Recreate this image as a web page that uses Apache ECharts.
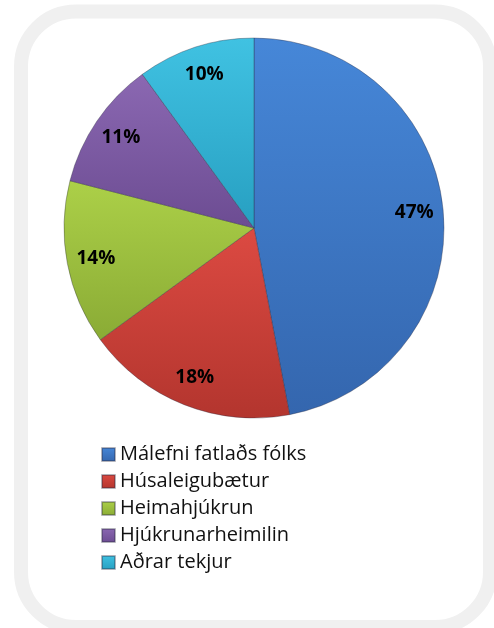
<!DOCTYPE html>
<html>
<head>
<meta charset="utf-8">
<script src="https://cdn.jsdelivr.net/npm/echarts@6/dist/echarts.min.js"></script>
<style>
  html, body { margin: 0; padding: 0; background: #ffffff; }
  #main { width: 494px; height: 628px; }
</style>
</head>
<body>
<div id="main"></div>
<script>
// flokkar og hlutföll (%)
const categories = ['Málefni fatlaðs fólks', 'Húsaleigubætur', 'Heimahjúkrun', 'Hjúkrunarheimilin', 'Aðrar tekjur'];
const shares = [47, 18, 14, 11, 10];
// litir: ljósari efst, dekkri neðst
const topColors = ['#4687d8', '#dc4a42', '#acd048', '#8b68b2', '#40c2e2'];
const bottomColors = ['#3466ae', '#b3352e', '#8aab35', '#6c4c92', '#279fc1'];

const chart = echarts.init(document.getElementById('main'));

const grad = (i) => new echarts.graphic.LinearGradient(0, 0, 0, 1, [
  { offset: 0, color: topColors[i] },
  { offset: 1, color: bottomColors[i] },
]);

const pieData = categories.map((name, i) => ({
  name,
  value: shares[i],
  itemStyle: { color: grad(i) },
}));

const option = {
  animation: false,
  graphic: [
    {
      // ljósgrár rammi
      type: 'rect',
      shape: { x: 21, y: 11.5, width: 469, height: 615.5, r: 55 },
      style: { fill: 'none', stroke: '#f0f0f0', lineWidth: 14 },
      z: -1,
    },
  ],
  legend: {
    orient: 'vertical',
    left: 96,
    top: 439,
    itemWidth: 13,
    itemHeight: 13,
    itemGap: 6,
    icon: 'rect',
    selectedMode: false,
    data: categories,
    textStyle: {
      fontFamily: 'Open Sans',
      fontSize: 20,
      lineHeight: 21,
      color: '#111111',
    },
  },
  series: [
    {
      type: 'pie',
      center: [254, 228],
      radius: 190,
      startAngle: 90,
      clockwise: true,
      silent: true,
      label: { show: false },
      labelLine: { show: false },
      itemStyle: { borderColor: 'rgba(40,40,60,0.35)', borderWidth: 1 },
      data: pieData,
    },
    {
      // gegnsær hringur til að setja merkin utarlega
      type: 'pie',
      center: [254, 228],
      radius: [124, 192],
      startAngle: 90,
      clockwise: true,
      silent: true,
      itemStyle: { color: 'rgba(0,0,0,0)' },
      label: {
        show: true,
        position: 'inside',
        formatter: '{c}%',
        fontFamily: 'Open Sans',
        fontWeight: 'bold',
        fontSize: 19,
        color: '#000000',
      },
      labelLine: { show: false },
      data: categories.map((name, i) => ({ name, value: shares[i] })),
    },
  ],
};

chart.setOption(option);
</script>
</body>
</html>
